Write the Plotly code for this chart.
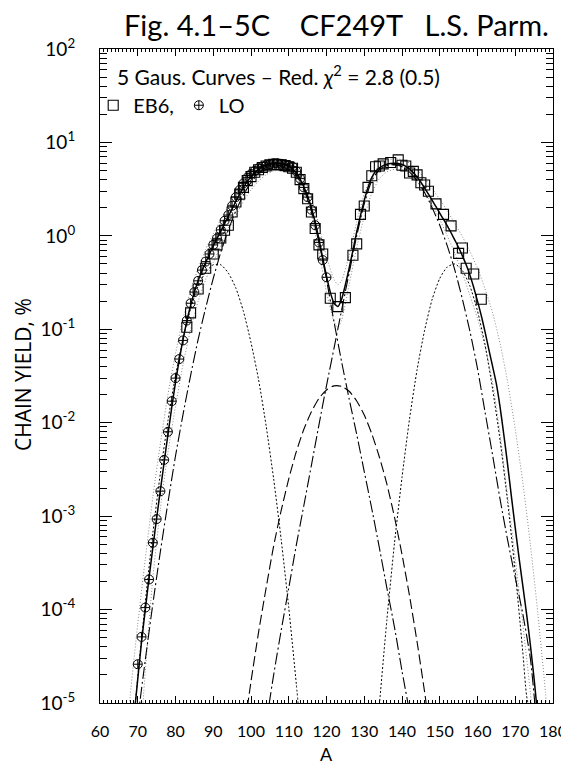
import plotly.graph_objects as go

# --- data (A = mass number, yields in %) ---
A_LO = list(range(70, 121))
Y_LO = [2.6e-5, 5.1e-5, 1.05e-4, 2.1e-4, 5.2e-4, 9.3e-4, 1.85e-3, 4.0e-3, 8.0e-3, 0.017,
        0.030, 0.048, 0.076, 0.124, 0.19, 0.25, 0.33, 0.43, 0.53, 0.64,
        0.80, 0.94, 1.16, 1.45, 1.67, 2.1, 2.6, 3.1, 3.65, 4.2,
        4.6, 4.95, 5.3, 5.5, 5.7, 5.85, 6.0, 6.0, 5.9, 5.8,
        5.7, 5.5, 4.9, 4.1, 3.3, 2.6, 1.9, 1.3, 0.85, 0.55, 0.36]

A_EB6 = [83, 84, 86, 88, 90, 91, 92, 93, 94, 95, 96, 97, 98, 99, 100, 101, 102, 103,
         104, 105, 106, 107, 108, 109, 110, 111, 112, 113, 114, 115, 116, 117, 118, 119,
         121, 123, 125, 127, 128, 129, 130, 131, 132, 133, 134, 135, 137, 139, 140, 141,
         142, 143, 144, 145, 146, 147, 149, 151, 153, 155, 156, 157, 159, 161]
Y_EB6 = [0.105, 0.15, 0.27, 0.45, 0.64, 0.80, 0.95, 1.15, 1.3, 1.8, 2.3, 2.8, 3.3, 3.9, 4.3,
         4.8, 5.1, 5.4, 5.6, 5.75, 5.85, 5.8, 5.75, 5.65, 5.5, 5.3, 4.8, 4.0, 3.2, 2.5, 1.8,
         1.2, 0.8, 0.64, 0.215, 0.175, 0.218, 0.62, 0.82, 1.70, 2.09, 3.3, 4.4, 5.5, 5.6,
         5.9, 6.1, 6.5, 5.7, 5.6, 4.7, 4.9, 4.5, 3.7, 3.5, 3.0, 2.2, 1.70, 1.28, 0.65, 0.74,
         0.45, 0.39, 0.21]

# total fit (solid)
A_TOT = list(range(69, 177))
Y_TOT = [7e-6, 1.8e-5, 4.5e-5, 1.0e-4, 2.2e-4, 4.6e-4, 9.5e-4, 1.9e-3, 3.8e-3, 7.5e-3,
         0.0145, 0.027, 0.047, 0.078, 0.122, 0.18, 0.25, 0.33, 0.42, 0.52,
         0.64, 0.78, 0.94, 1.12, 1.35, 1.62, 1.95, 2.35, 2.8, 3.3,
         3.8, 4.3, 4.75, 5.15, 5.5, 5.75, 5.9, 6.0, 6.0, 5.95,
         5.8, 5.55, 5.2, 4.7, 4.05, 3.35, 2.65, 2.0, 1.4, 0.92,
         0.58, 0.37, 0.25, 0.19, 0.175, 0.21, 0.3, 0.45, 0.7, 1.1,
         1.65, 2.4, 3.3, 4.2, 4.9, 5.35, 5.65, 5.85, 5.95, 6.0,
         5.95, 5.8, 5.55, 5.2, 4.75, 4.25, 3.75, 3.25, 2.8, 2.4,
         2.05, 1.75, 1.5, 1.28, 1.08, 0.9, 0.75, 0.61, 0.49, 0.38,
         0.28, 0.2, 0.14, 0.094, 0.061, 0.04, 0.026, 0.0145, 7.3e-3, 3.5e-3,
         1.6e-3, 7.5e-4, 3.6e-4, 1.8e-4, 9e-5, 4.2e-5, 1.8e-5, 7e-6]

# upper / lower uncertainty envelopes (light dotted)
A_UP = [67, 68, 70, 72, 74, 76, 78, 80, 82, 84, 86, 88, 90, 92, 94, 96, 98, 100, 102, 104,
        106, 108, 110, 112, 114, 116, 118, 120, 122, 123, 124, 126, 128, 130, 132, 134, 136,
        138, 140, 142, 144, 146, 148, 150, 152, 154, 156, 158, 160, 162, 164, 166, 168, 170,
        172, 174, 176, 178, 179]
Y_UP = [4e-6, 1.2e-5, 7e-5, 3.5e-4, 1.6e-3, 6e-3, 0.02, 0.055, 0.13, 0.26, 0.45, 0.72, 1.05,
        1.5, 2.1, 2.85, 3.75, 4.7, 5.6, 6.3, 6.65, 6.6, 6.2, 5.4, 4.1, 2.6, 1.3, 0.6, 0.34,
        0.30, 0.33, 0.62, 1.4, 2.8, 4.4, 5.7, 6.4, 6.7, 6.55, 6.0, 5.1, 4.1, 3.2, 2.45, 1.85,
        1.35, 0.98, 0.68, 0.45, 0.27, 0.15, 0.07, 0.027, 8.5e-3, 2.3e-3, 5e-4, 9e-5, 1.3e-5,
        4e-6]
A_LOW = [71, 72, 74, 76, 78, 80, 82, 84, 86, 88, 90, 92, 94, 96, 98, 100, 102, 104, 106, 108,
         110, 112, 114, 116, 118, 120, 122, 123, 124, 126, 128, 130, 132, 134, 136, 138, 140,
         142, 144, 146, 148, 150, 152, 154, 156, 158, 160, 162, 164, 166, 168, 170, 172, 174,
         175]
Y_LOW = [6e-6, 2.2e-5, 2.2e-4, 1.2e-3, 4.8e-3, 0.015, 0.042, 0.1, 0.2, 0.34, 0.52, 0.78, 1.15,
         1.65, 2.35, 3.1, 3.85, 4.5, 4.95, 5.05, 4.8, 4.1, 2.9, 1.65, 0.68, 0.25, 0.12, 0.105,
         0.125, 0.3, 0.75, 1.6, 2.85, 4.1, 4.85, 5.15, 5.05, 4.55, 3.8, 2.95, 2.15, 1.5, 1.0,
         0.65, 0.4, 0.23, 0.13, 0.065, 0.027, 7.5e-3, 1.6e-3, 3.5e-4, 7e-5, 1.3e-5, 5e-6]

# light and heavy main components (dash-dot)
A_LIGHT = [70, 72, 74, 76, 78, 80, 82, 84, 86, 88, 90, 92, 94, 96, 98, 100, 102, 104, 106,
           108, 110, 112, 114, 116, 118, 120, 122, 124, 126, 128, 130, 132, 134, 136, 138,
           140, 142]
Y_LIGHT = [6.8e-6, 2.9e-5, 1.15e-4, 4.2e-4, 1.4e-3, 4.4e-3, 0.0123, 0.032, 0.078, 0.17, 0.35,
           0.67, 1.16, 1.86, 2.75, 3.73, 4.68, 5.4, 5.75, 5.6, 5.2, 4.45, 3.15, 1.85, 0.85,
           0.34, 0.12, 0.045, 0.018, 7.5e-3, 3.0e-3, 1.2e-3, 4.6e-4, 1.7e-4, 6.5e-5, 2.2e-5,
           8e-6]
A_HEAVY = [104, 106, 108, 110, 112, 114, 116, 118, 120, 122, 124, 126, 128, 130, 132, 134,
           136, 138, 140, 142, 144, 146, 148, 150, 152, 154, 156, 158, 160, 162, 164, 166,
           168, 170, 172, 174, 175, 176]
Y_HEAVY = [6e-6, 2.0e-5, 6e-5, 1.7e-4, 4.9e-4, 1.3e-3, 3.5e-3, 9.5e-3, 0.025, 0.063, 0.16,
           0.4, 1.0, 2.2, 3.9, 5.1, 5.65, 5.8, 5.5, 4.8, 3.9, 2.9, 2.0, 1.3, 0.78, 0.43, 0.21,
           0.095, 0.038, 0.013, 4.5e-3, 1.5e-3, 5.5e-4, 2.2e-4, 9e-5, 3e-5, 1.2e-5, 4e-6]

# wing components (dotted)
A_WING1 = [68, 70, 72, 74, 76, 78, 80, 82, 84, 86, 88, 90, 92, 94, 96, 98, 100, 102, 104,
           106, 108, 110, 112, 113]
Y_WING1 = [2.5e-6, 1.9e-5, 1.2e-4, 6.6e-4, 2.9e-3, 0.0105, 0.032, 0.079, 0.166, 0.29, 0.41,
           0.49, 0.49, 0.40, 0.275, 0.155, 0.072, 0.029, 9.3e-3, 2.5e-3, 5.6e-4, 1.05e-4,
           1.6e-5, 5.9e-6]
A_WING2 = [134, 136, 138, 140, 142, 144, 146, 148, 150, 152, 154, 156, 158, 160, 162, 164,
           166, 168, 170, 172, 173, 174]
Y_WING2 = [9.5e-6, 7.8e-5, 5.1e-4, 2.6e-3, 0.011, 0.037, 0.098, 0.21, 0.35, 0.465, 0.50,
           0.425, 0.29, 0.157, 0.068, 0.023, 6.4e-3, 1.4e-3, 2.5e-4, 3.5e-5, 1.2e-5, 7.6e-6]

# symmetric component (dashed)
A_SYM = [98, 100, 102, 104, 106, 108, 110, 112, 114, 116, 118, 120, 122, 124, 126, 128, 130,
         132, 134, 136, 138, 140, 142, 144, 146, 148]
Y_SYM = [4.5e-6, 1.7e-5, 5.7e-5, 1.7e-4, 4.8e-4, 1.15e-3, 2.5e-3, 4.9e-3, 8.5e-3, 0.0131,
         0.0182, 0.0224, 0.0248, 0.0245, 0.0217, 0.0171, 0.0121, 7.6e-3, 4.3e-3, 2.2e-3,
         9.8e-4, 3.9e-4, 1.4e-4, 4.5e-5, 1.3e-5, 3.3e-6]

X_TICKS = list(range(60, 181, 10))
Y_TICKS = [1e-5, 1e-4, 1e-3, 1e-2, 1e-1, 1, 10, 100]
Y_TICKTEXT = ['10<sup>-5</sup>', '10<sup>-4</sup>', '10<sup>-3</sup>', '10<sup>-2</sup>',
              '10<sup>-1</sup>', '10<sup>0</sup>', '10<sup>1</sup>', '10<sup>2</sup>']

FONT = 'Lato, Noto Sans, sans-serif'
DASHDOT = '12px,3px,2px,3px'


def curve(x, y, color='black', width=1.2, dash='solid'):
    return go.Scatter(x=x, y=y, mode='lines', showlegend=False, hoverinfo='skip',
                      line=dict(color=color, width=width, dash=dash, shape='spline',
                                smoothing=0.6))


fig = go.Figure()
fig.add_trace(curve(A_UP, Y_UP, color='#8a8a8a', width=1, dash='1px,2px'))
fig.add_trace(curve(A_LOW, Y_LOW, color='#8a8a8a', width=1, dash='1px,2px'))
fig.add_trace(curve(A_WING1, Y_WING1, width=1, dash='2px,2px'))
fig.add_trace(curve(A_WING2, Y_WING2, width=1, dash='2px,2px'))
fig.add_trace(curve(A_SYM, Y_SYM, width=1.1, dash='10px,4px'))
fig.add_trace(curve(A_LIGHT, Y_LIGHT, width=1.1, dash=DASHDOT))
fig.add_trace(curve(A_HEAVY, Y_HEAVY, width=1.1, dash=DASHDOT))
fig.add_trace(curve(A_TOT, Y_TOT, width=1.5))

fig.add_trace(go.Scatter(
    x=A_EB6, y=Y_EB6, mode='markers', name='EB6,',
    marker=dict(symbol='square-open', size=10, color='black', line=dict(width=1.1))
))
fig.add_trace(go.Scatter(
    x=A_LO, y=Y_LO, mode='markers', name='LO',
    marker=dict(symbol='circle-cross-open', size=9, color='black', line=dict(width=1))
))

minor_y = [m * 10 ** e for e in range(-5, 2) for m in range(2, 10)]

fig.update_xaxes(
    range=[60, 180], tickvals=X_TICKS, ticks='inside', ticklen=7, tickwidth=1,
    tickcolor='black', showline=True, linecolor='black', linewidth=1.2, mirror='ticks',
    showgrid=False, zeroline=False, ticklabelstandoff=14, automargin=False,
    tickfont=dict(family=FONT, size=16, color='black'),
    minor=dict(dtick=1, ticks='inside', ticklen=3, tickcolor='black', showgrid=False)
)
fig.update_yaxes(
    type='log', range=[-5, 2], tickvals=Y_TICKS, ticktext=Y_TICKTEXT, ticks='inside',
    ticklen=12, tickwidth=1, tickcolor='black', showline=True, linecolor='black',
    linewidth=1.2, mirror='ticks', showgrid=False, zeroline=False, ticklabelstandoff=20,
    automargin=False, tickfont=dict(family=FONT, size=19, color='black'),
    minor=dict(tickvals=minor_y, ticks='inside', ticklen=7, tickcolor='black',
               showgrid=False)
)

# the page body adds an 8px margin, so the figure is 8px smaller and the
# left/top margins are 8px less to keep the frame at x 100-553, y 49-703
fig.update_layout(
    width=561, height=756,
    margin=dict(l=92, r=16, t=41, b=61),
    paper_bgcolor='white', plot_bgcolor='white',
    font=dict(family=FONT, color='black'),
    legend=dict(orientation='h', x=-0.015, y=0.914, xanchor='left', yanchor='middle',
                font=dict(family=FONT, size=20, color='black'),
                bgcolor='rgba(0,0,0,0)', itemwidth=30),
    annotations=[
        dict(text='Fig.\u00a04.1\u20135C\u00a0\u00a0\u00a0\u00a0CF249T\u00a0\u00a0\u00a0L.S.\u00a0Parm.',
             xref='paper', yref='paper', x=0.523, y=1.038, xanchor='center',
             yanchor='middle', showarrow=False, font=dict(family=FONT, size=29)),
        dict(text='5 Gaus. Curves \u2013 Red. <i>\u03c7</i><sup>2</sup> = 2.8 (0.5)',
             xref='paper', yref='paper', x=0.033, y=0.960, xanchor='left',
             yanchor='middle', showarrow=False, font=dict(family=FONT, size=21)),
        dict(text='CHAIN YIELD, %', xref='paper', yref='paper', x=-0.170, y=0.503,
             xanchor='center', yanchor='middle', textangle=-90, showarrow=False,
             font=dict(family='Open Sans', size=21)),
        dict(text='A', xref='paper', yref='paper', x=0.501, y=-0.078, xanchor='center',
             yanchor='middle', showarrow=False, font=dict(family=FONT, size=18)),
    ]
)

fig.write_html('out.html', config={'displayModeBar': False})
